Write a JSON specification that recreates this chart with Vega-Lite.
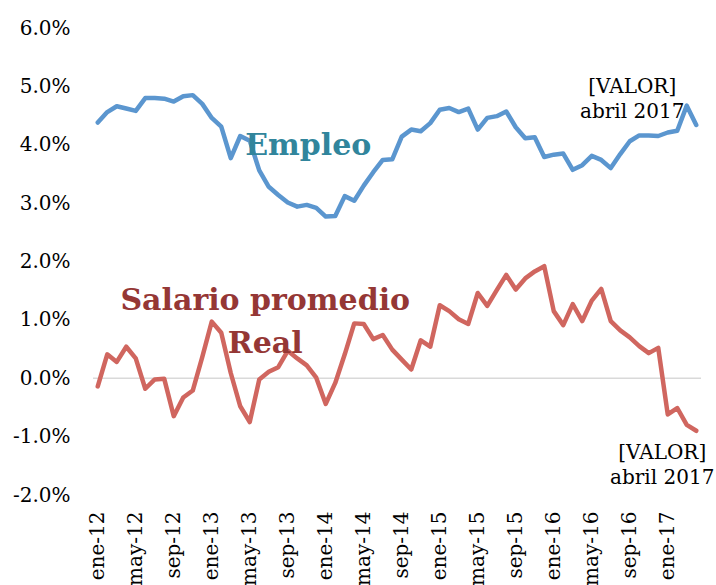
{
  "$schema": "https://vega.github.io/schema/vega-lite/v6.json",
  "width": 608,
  "height": 467,
  "autosize": {"type": "none"},
  "padding": {"left": 93, "top": 28, "right": 15, "bottom": 90},
  "background": "white",
  "config": {"view": {"stroke": null}, "font": "DejaVu Serif"},
  "data": {"values": [
    {"mes": "ene-12", "empleo": 4.38, "salario": -0.14},
    {"mes": "feb-12", "empleo": 4.56, "salario": 0.41},
    {"mes": "mar-12", "empleo": 4.66, "salario": 0.28},
    {"mes": "abr-12", "empleo": 4.62, "salario": 0.54},
    {"mes": "may-12", "empleo": 4.58, "salario": 0.34},
    {"mes": "jun-12", "empleo": 4.80, "salario": -0.18},
    {"mes": "jul-12", "empleo": 4.80, "salario": -0.02},
    {"mes": "ago-12", "empleo": 4.79, "salario": -0.01},
    {"mes": "sep-12", "empleo": 4.74, "salario": -0.65},
    {"mes": "oct-12", "empleo": 4.83, "salario": -0.33},
    {"mes": "nov-12", "empleo": 4.85, "salario": -0.21},
    {"mes": "dic-12", "empleo": 4.70, "salario": 0.36},
    {"mes": "ene-13", "empleo": 4.46, "salario": 0.97},
    {"mes": "feb-13", "empleo": 4.31, "salario": 0.78},
    {"mes": "mar-13", "empleo": 3.77, "salario": 0.09},
    {"mes": "abr-13", "empleo": 4.15, "salario": -0.48},
    {"mes": "may-13", "empleo": 4.07, "salario": -0.75},
    {"mes": "jun-13", "empleo": 3.56, "salario": -0.02},
    {"mes": "jul-13", "empleo": 3.28, "salario": 0.11},
    {"mes": "ago-13", "empleo": 3.14, "salario": 0.19},
    {"mes": "sep-13", "empleo": 3.01, "salario": 0.47},
    {"mes": "oct-13", "empleo": 2.94, "salario": 0.34},
    {"mes": "nov-13", "empleo": 2.97, "salario": 0.22},
    {"mes": "dic-13", "empleo": 2.92, "salario": 0.01},
    {"mes": "ene-14", "empleo": 2.77, "salario": -0.44},
    {"mes": "feb-14", "empleo": 2.78, "salario": -0.08},
    {"mes": "mar-14", "empleo": 3.12, "salario": 0.41},
    {"mes": "abr-14", "empleo": 3.04, "salario": 0.94},
    {"mes": "may-14", "empleo": 3.30, "salario": 0.93},
    {"mes": "jun-14", "empleo": 3.53, "salario": 0.67},
    {"mes": "jul-14", "empleo": 3.74, "salario": 0.74},
    {"mes": "ago-14", "empleo": 3.75, "salario": 0.49},
    {"mes": "sep-14", "empleo": 4.14, "salario": 0.32},
    {"mes": "oct-14", "empleo": 4.26, "salario": 0.15},
    {"mes": "nov-14", "empleo": 4.23, "salario": 0.65},
    {"mes": "dic-14", "empleo": 4.37, "salario": 0.54},
    {"mes": "ene-15", "empleo": 4.60, "salario": 1.25},
    {"mes": "feb-15", "empleo": 4.63, "salario": 1.15},
    {"mes": "mar-15", "empleo": 4.56, "salario": 1.01},
    {"mes": "abr-15", "empleo": 4.62, "salario": 0.93},
    {"mes": "may-15", "empleo": 4.26, "salario": 1.46},
    {"mes": "jun-15", "empleo": 4.46, "salario": 1.24},
    {"mes": "jul-15", "empleo": 4.49, "salario": 1.51},
    {"mes": "ago-15", "empleo": 4.57, "salario": 1.77},
    {"mes": "sep-15", "empleo": 4.30, "salario": 1.52},
    {"mes": "oct-15", "empleo": 4.11, "salario": 1.71},
    {"mes": "nov-15", "empleo": 4.13, "salario": 1.83},
    {"mes": "dic-15", "empleo": 3.79, "salario": 1.92},
    {"mes": "ene-16", "empleo": 3.83, "salario": 1.15},
    {"mes": "feb-16", "empleo": 3.85, "salario": 0.91},
    {"mes": "mar-16", "empleo": 3.57, "salario": 1.27},
    {"mes": "abr-16", "empleo": 3.65, "salario": 0.98},
    {"mes": "may-16", "empleo": 3.81, "salario": 1.33},
    {"mes": "jun-16", "empleo": 3.74, "salario": 1.53},
    {"mes": "jul-16", "empleo": 3.60, "salario": 0.98},
    {"mes": "ago-16", "empleo": 3.84, "salario": 0.82},
    {"mes": "sep-16", "empleo": 4.06, "salario": 0.70},
    {"mes": "oct-16", "empleo": 4.16, "salario": 0.55},
    {"mes": "nov-16", "empleo": 4.16, "salario": 0.43},
    {"mes": "dic-16", "empleo": 4.15, "salario": 0.52},
    {"mes": "ene-17", "empleo": 4.21, "salario": -0.62},
    {"mes": "feb-17", "empleo": 4.24, "salario": -0.51},
    {"mes": "mar-17", "empleo": 4.67, "salario": -0.80},
    {"mes": "abr-17", "empleo": 4.34, "salario": -0.90}
  ]},
  "encoding": {
    "x": {
      "field": "mes",
      "type": "ordinal",
      "sort": null,
      "scale": {
        "type": "point",
        "padding": 0.5,
        "domain": ["ene-12","feb-12","mar-12","abr-12","may-12","jun-12","jul-12","ago-12","sep-12","oct-12","nov-12","dic-12",
                   "ene-13","feb-13","mar-13","abr-13","may-13","jun-13","jul-13","ago-13","sep-13","oct-13","nov-13","dic-13",
                   "ene-14","feb-14","mar-14","abr-14","may-14","jun-14","jul-14","ago-14","sep-14","oct-14","nov-14","dic-14",
                   "ene-15","feb-15","mar-15","abr-15","may-15","jun-15","jul-15","ago-15","sep-15","oct-15","nov-15","dic-15",
                   "ene-16","feb-16","mar-16","abr-16","may-16","jun-16","jul-16","ago-16","sep-16","oct-16","nov-16","dic-16",
                   "ene-17","feb-17","mar-17","abr-17"]
      },
      "axis": {
        "title": null,
        "values": ["ene-12","may-12","sep-12","ene-13","may-13","sep-13","ene-14","may-14","sep-14","ene-15","may-15","sep-15","ene-16","may-16","sep-16","ene-17"],
        "labelAngle": -90,
        "labelAlign": "right",
        "labelBaseline": "middle",
        "labelFont": "DejaVu Serif",
        "labelFontSize": 20,
        "labelColor": "black",
        "labelPadding": 16,
        "ticks": false,
        "tickSize": 0,
        "domain": false,
        "grid": false,
        "labelOverlap": false
      }
    }
  },
  "layer": [
    {
      "data": {"values": [{"cero": 0}]},
      "mark": {"type": "rule", "color": "#D9D9D9", "strokeWidth": 1.5},
      "encoding": {"y": {"field": "cero", "type": "quantitative"}, "x": null}
    },
    {
      "mark": {"type": "line", "color": "#5B96CF", "strokeWidth": 4.5, "strokeJoin": "round", "strokeCap": "round"},
      "encoding": {
        "y": {
          "field": "empleo",
          "type": "quantitative",
          "scale": {"domain": [-2, 6], "nice": false, "zero": false},
          "axis": {
            "title": null,
            "values": [-2, -1, 0, 1, 2, 3, 4, 5, 6],
            "labelExpr": "(datum.value < 0 ? '-' : '') + format(abs(datum.value), '.1f') + '%'",
            "labelFont": "DejaVu Serif",
            "labelFontSize": 20,
            "labelColor": "black",
            "labelPadding": 23,
            "ticks": false,
            "tickSize": 0,
            "domain": false,
            "grid": false
          }
        }
      }
    },
    {
      "mark": {"type": "line", "color": "#D0665F", "strokeWidth": 4.5, "strokeJoin": "round", "strokeCap": "round"},
      "encoding": {"y": {"field": "salario", "type": "quantitative"}}
    },
    {
      "transform": [{"filter": "datum.mes == 'abr-17'"}],
      "mark": {"type": "text", "font": "DejaVu Serif", "fontSize": 20, "color": "black", "align": "center", "baseline": "middle", "lineHeight": 25, "dx": -64, "dy": -38},
      "encoding": {"y": {"field": "empleo", "type": "quantitative"}, "text": {"value": ["[VALOR]", "abril 2017"]}}
    },
    {
      "transform": [{"filter": "datum.mes == 'abr-17'"}],
      "mark": {"type": "text", "font": "DejaVu Serif", "fontSize": 20, "color": "black", "align": "center", "baseline": "middle", "lineHeight": 25, "dx": -34, "dy": 22},
      "encoding": {"y": {"field": "salario", "type": "quantitative"}, "text": {"value": ["[VALOR]", "abril 2017"]}}
    },
    {
      "data": {"values": [{"etiqueta": "Empleo"}]},
      "mark": {"type": "text", "font": "DejaVu Serif", "fontWeight": "bold", "fontSize": 30, "color": "#31859C", "align": "center", "baseline": "middle", "dx": 1.5},
      "encoding": {"x": {"datum": "nov-13"}, "y": {"datum": 3.98, "type": "quantitative"}, "text": {"field": "etiqueta"}}
    },
    {
      "data": {"values": [{"etiqueta": ["Salario promedio", "Real"]}]},
      "mark": {"type": "text", "font": "DejaVu Serif", "fontWeight": "bold", "fontSize": 30, "color": "#953735", "align": "center", "baseline": "middle", "lineHeight": 43, "dx": -3.5},
      "encoding": {"x": {"datum": "jul-13"}, "y": {"datum": 1.32, "type": "quantitative"}, "text": {"field": "etiqueta"}}
    }
  ]
}
